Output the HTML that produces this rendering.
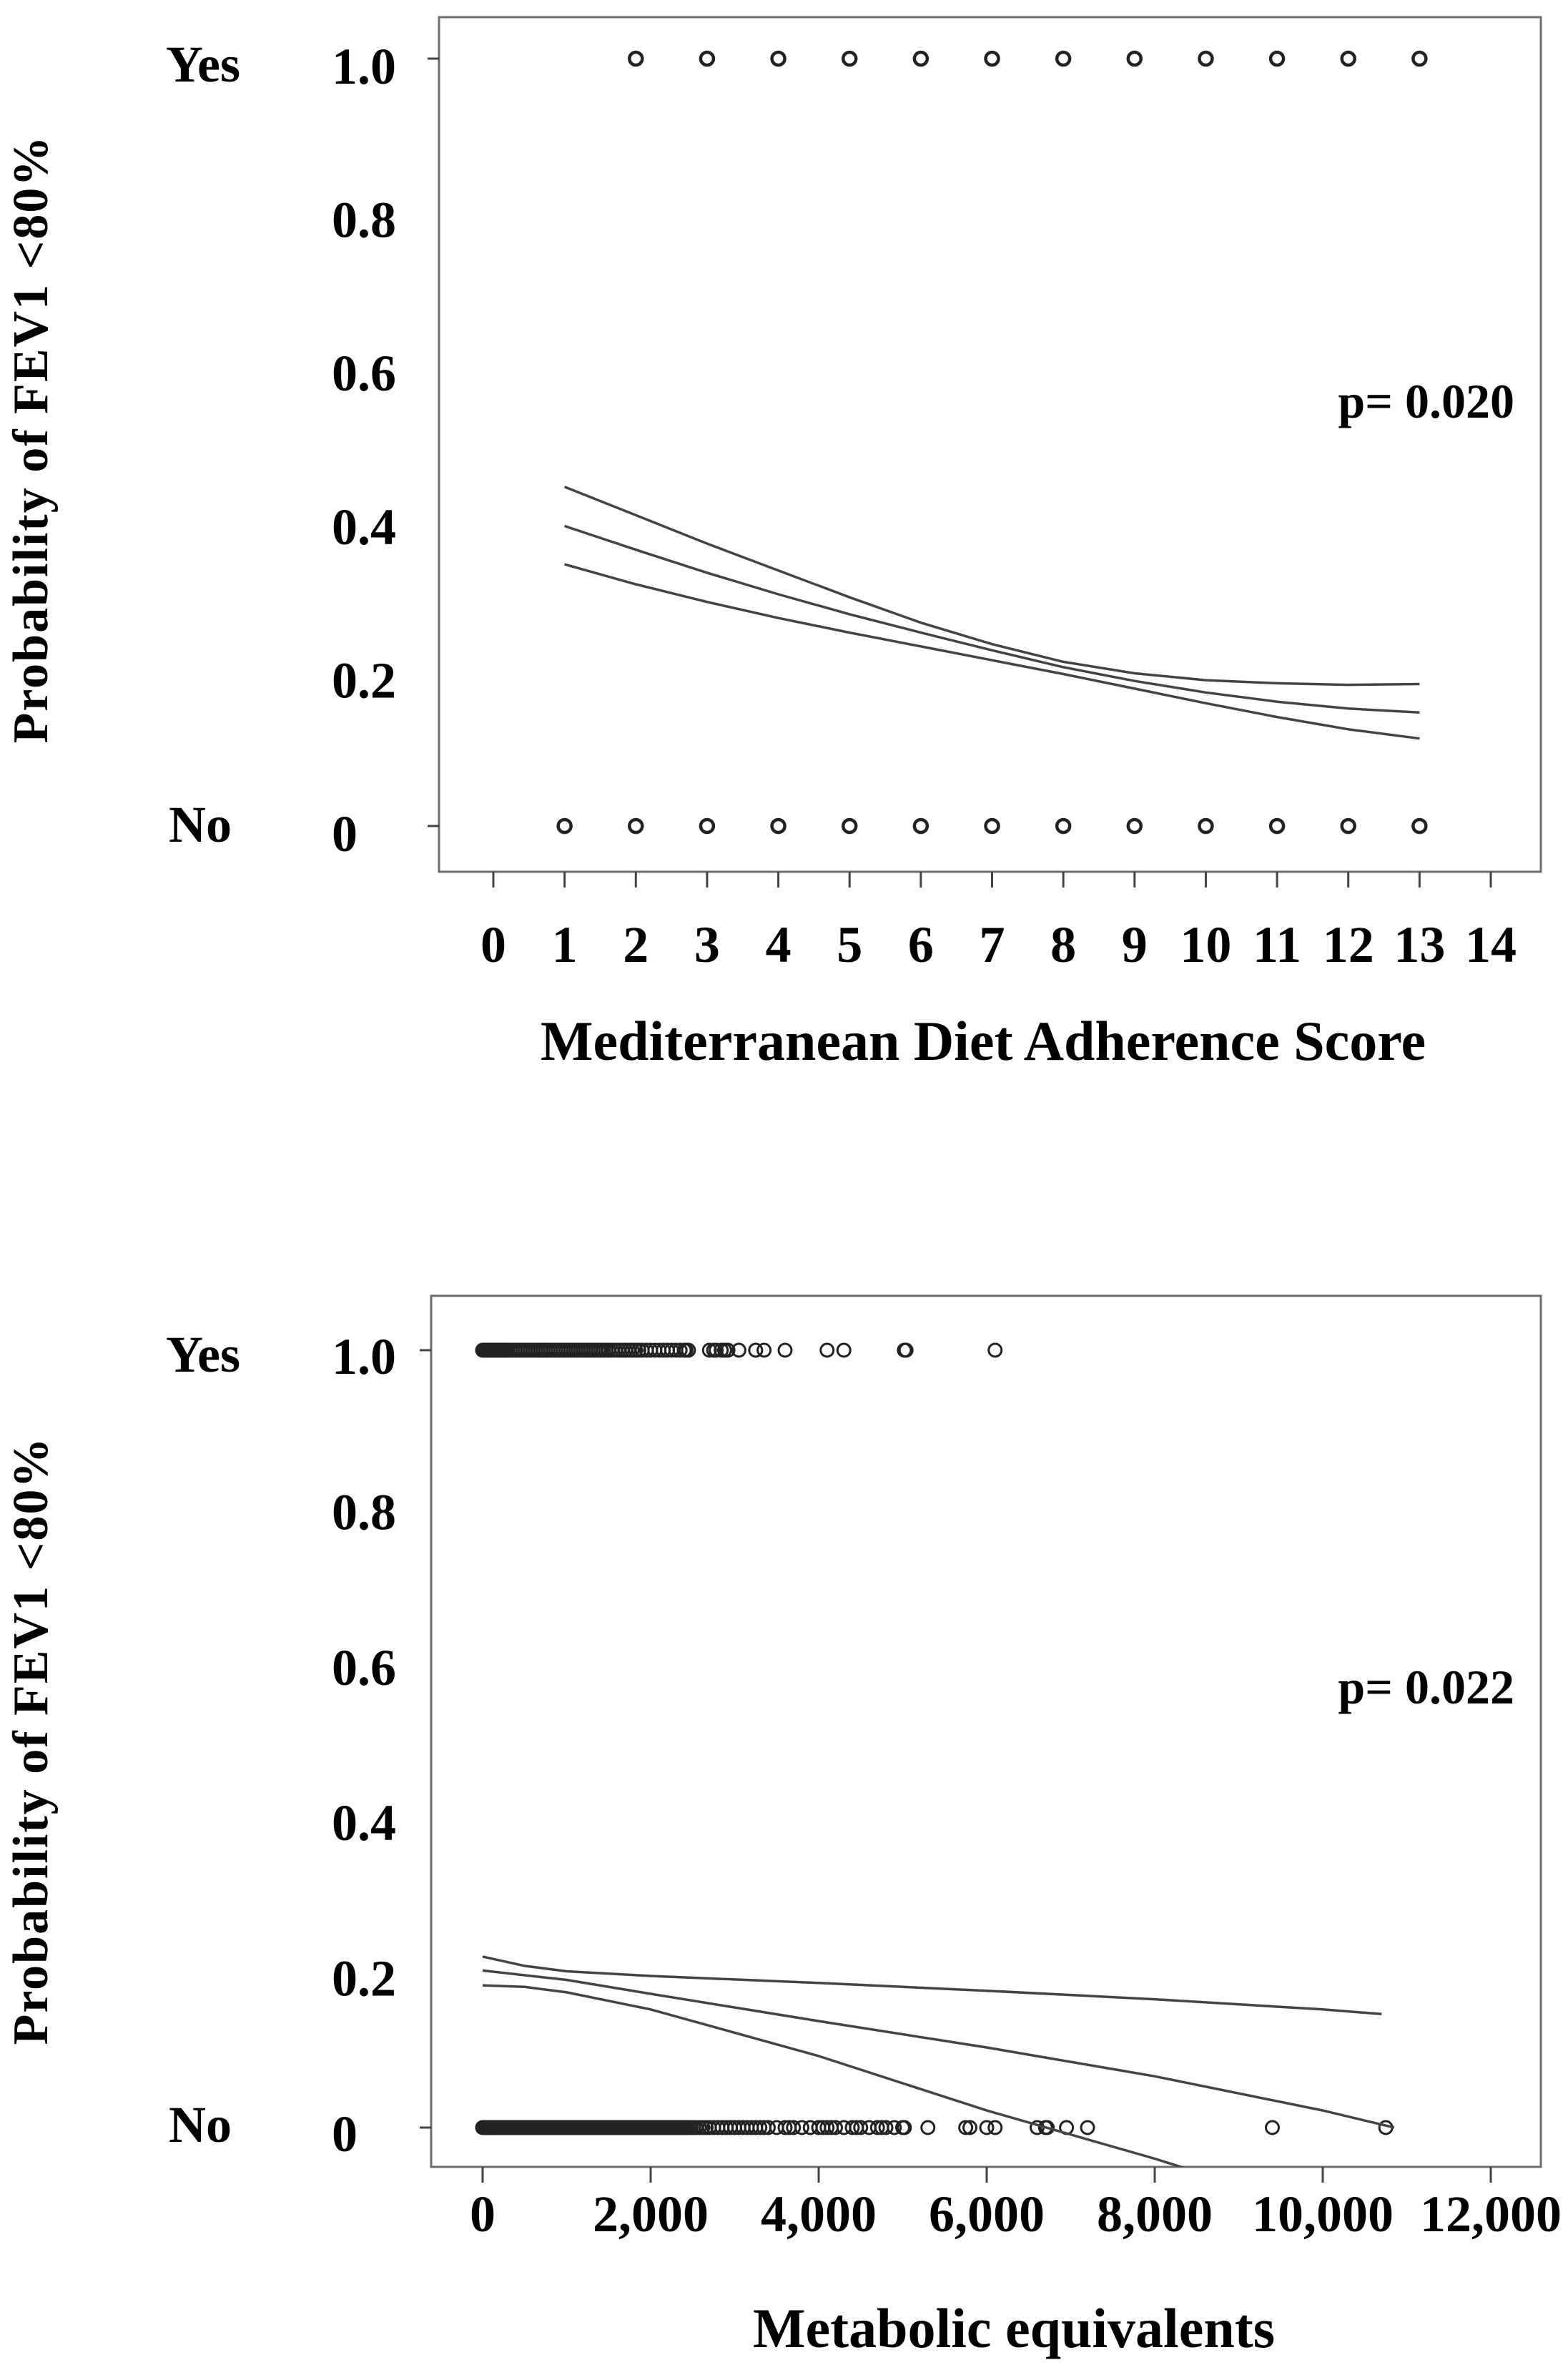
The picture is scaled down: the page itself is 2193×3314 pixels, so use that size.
<!DOCTYPE html>
<html><head><meta charset="utf-8"><style>
html,body{margin:0;padding:0;background:#fff;}
svg{display:block;font-family:"Liberation Serif",serif;font-weight:bold;}
</style></head><body>
<svg id="fig" width="2193" height="3314" viewBox="0 0 2193 3314" xmlns="http://www.w3.org/2000/svg">
<g id="top"></g>
<g id="bot"></g>
</svg>
<script>
// ---- Top chart data ----
const dietTicks = [0,1,2,3,4,5,6,7,8,9,10,11,12,13,14];
const dietX = [1,2,3,4,5,6,7,8,9,10,11,12,13];
const dietUpper = [0.442,0.405,0.368,0.333,0.298,0.265,0.237,0.214,0.199,0.190,0.186,0.184,0.185];
const dietMid   = [0.391,0.360,0.330,0.302,0.276,0.252,0.229,0.207,0.189,0.174,0.162,0.153,0.148];
const dietLower = [0.341,0.315,0.292,0.271,0.252,0.234,0.216,0.198,0.179,0.160,0.142,0.126,0.114];
const dietYesPts = [2,3,4,5,6,7,8,9,10,11,12,13];
const dietNoPts = [1,2,3,4,5,6,7,8,9,10,11,12,13];
const yTicks = [0,0.2,0.4,0.6,0.8,1.0];
const yTickLabels = ["0","0.2","0.4","0.6","0.8","1.0"];
// ---- Bottom chart data ----
const metTicks = [0,2000,4000,6000,8000,10000,12000];
const metTickLabels = ["0","2,000","4,000","6,000","8,000","10,000","12,000"];
const metUpperX = [0,500,1000,2000,4000,6000,8000,10000,10700];
const metUpperY = [0.220,0.208,0.201,0.195,0.186,0.176,0.165,0.152,0.146];
const metMidX = [0,1000,2000,4000,6000,8000,10000,10850];
const metMidY = [0.202,0.190,0.172,0.137,0.103,0.066,0.022,0.000];
const metLowX = [0,500,1000,2000,4000,6000,8000,8500];
const metLowY = [0.183,0.181,0.174,0.152,0.092,0.022,-0.040,-0.057];
const metYesPts = [0,20,40,60,80,100,120,140,160,180,200,220,240,260,280,300,330,360,390,420,450,480,510,540,570,600,630,660,690,720,750,780,810,840,870,900,930,960,990,1020,1050,1080,1110,1140,1170,1200,1230,1260,1290,1320,1350,1380,1410,1440,1470,1500,1540,1580,1620,1660,1700,1740,1780,1820,1860,1900,1950,2000,2050,2100,2150,2200,2250,2300,2350,2400,2420,2450,2700,2750,2780,2840,2880,2920,3050,3250,3350,3600,4100,4300,5020,5040,6100];
const metNoPts = [0,15,30,45,60,75,90,105,120,135,150,170,190,210,230,250,270,290,310,330,350,370,390,410,430,450,470,490,510,530,550,570,590,610,630,650,670,690,710,730,750,770,790,810,830,850,870,890,910,930,950,970,990,1010,1030,1050,1070,1090,1110,1130,1150,1170,1190,1210,1230,1250,1270,1290,1310,1330,1350,1370,1390,1410,1430,1450,1470,1490,1510,1530,1550,1570,1590,1610,1630,1650,1670,1690,1710,1730,1750,1770,1790,1810,1830,1850,1870,1890,1910,1930,1950,1970,1990,2010,2030,2050,2070,2090,2110,2130,2150,2170,2190,2210,2230,2250,2270,2290,2310,2330,2350,2370,2390,2410,2430,2450,2480,2510,2540,2580,2620,2660,2700,2750,2800,2850,2900,2950,3000,3050,3100,3150,3200,3250,3300,3350,3400,3500,3600,3650,3700,3800,3900,4000,4050,4100,4150,4200,4300,4400,4450,4500,4600,4700,4750,4800,4900,5000,5020,5300,5750,5800,6000,6100,6600,6700,6720,6950,7200,9400,10750];

const NS="http://www.w3.org/2000/svg";
function mk(parent,tag,attrs,text){const e=document.createElementNS(NS,tag);for(const k in attrs)e.setAttribute(k,attrs[k]);if(text!==undefined)e.textContent=text;parent.appendChild(e);return e;}

function drawChart(g,cfg){
  const sx=v=>cfg.x0+(v-cfg.xmin)*(cfg.x1-cfg.x0)/(cfg.xmax-cfg.xmin);
  const sy=v=>cfg.y0-v*(cfg.y0-cfg.y1);
  const clipId=cfg.id+"-clip";
  const defs=mk(g,"defs",{});
  const cp=mk(defs,"clipPath",{id:clipId});
  mk(cp,"rect",{x:cfg.L,y:cfg.T,width:cfg.R-cfg.L,height:cfg.B-cfg.T});
  const frame=mk(g,"rect",{x:cfg.L,y:cfg.T,width:cfg.R-cfg.L,height:cfg.B-cfg.T,fill:"none",stroke:"#6e6e6e","stroke-width":3});
  
  
  [0,1].forEach(v=>{
    const t=mk(g,"line",{x1:cfg.L-16,x2:cfg.L,y1:sy(v),y2:sy(v),stroke:"#444","stroke-width":3});
    
    
  });
  yTicks.forEach((v,i)=>{
    const t=mk(g,"text",{x:464,y:sy(v)+cfg.lblOff+25,"font-size":72},yTickLabels[i]);
    
    
  });
  const yes=mk(g,"text",{x:232,y:sy(1)+cfg.lblOff+22,"font-size":72},"Yes");
  
  
  const no=mk(g,"text",{x:236,y:sy(0)+cfg.lblOff+12,"font-size":72},"No");
  
  
  cfg.xt.forEach((v,i)=>{
    const t=mk(g,"line",{x1:sx(v),x2:sx(v),y1:cfg.B,y2:cfg.B+22,stroke:"#444","stroke-width":3});
    
    
    const l=mk(g,"text",{x:sx(v),y:cfg.xlY,"font-size":72,"text-anchor":"middle"},cfg.xtl[i]);
    
    
  });
  const xt=mk(g,"text",{x:cfg.xTitleX,y:cfg.xTitleY,"font-size":cfg.xTitleSize,"text-anchor":"middle"},cfg.xTitle);
  
  
  const yt=mk(g,"text",{x:0,y:0,"font-size":70,"text-anchor":"middle",transform:`translate(66,${cfg.yTitleY}) rotate(-90)`,"letter-spacing":2},"Probability of FEV1 <80%");
  
  
  const p=mk(g,"text",{x:2118,y:cfg.pY+22,"font-size":68,"text-anchor":"end"},cfg.pText);
  
  
  const pts=mk(g,"g",{fill:"none",stroke:"#222","stroke-width":cfg.ptStroke});
  cfg.yesPts.forEach(v=>{const c=mk(pts,"circle",{cx:sx(v),cy:sy(1),r:9});
    
    });
  cfg.noPts.forEach(v=>{const c=mk(pts,"circle",{cx:sx(v),cy:sy(0),r:9});
    
    });
  cfg.curves.forEach(cv=>{
    const d=cv.xs.map((x,i)=>(i?"L":"M")+sx(x).toFixed(1)+","+sy(cv.ys[i]).toFixed(1)).join(" ");
    const path=mk(g,"path",{d:d,fill:"none",stroke:"#444","stroke-width":3.5,"clip-path":`url(#${clipId})`});
    
    
  });
}

drawChart(document.getElementById('top'),{
  id:"top",L:614,R:2155,T:24,B:1219,x0:690,x1:2085,xmin:0,xmax:14,y0:1155,y1:82,lblOff:10,ptStroke:4.5,
  xt:dietTicks,xtl:dietTicks.map(String),xlY:1345,xTitle:"Mediterranean Diet Adherence Score",xTitleX:1375,xTitleY:1482,xTitleSize:78,
  yTitleY:614,pText:"p= 0.020",pY:562,yesPts:dietYesPts,noPts:dietNoPts,
  curves:[{name:"upper-ci-curve",xs:dietX,ys:dietUpper},{name:"fitted-curve",xs:dietX,ys:dietMid},{name:"lower-ci-curve",xs:dietX,ys:dietLower}]
});
drawChart(document.getElementById('bot'),{
  id:"bot",L:603,R:2155,T:1812,B:3030,x0:675,x1:2085,xmin:0,xmax:12000,y0:2975,y1:1888,lblOff:8,ptStroke:3,
  xt:metTicks,xtl:metTickLabels,xlY:3120,xTitle:"Metabolic equivalents",xTitleX:1418,xTitleY:3282,xTitleSize:78,
  yTitleY:2434,pText:"p= 0.022",pY:2360,yesPts:metYesPts,noPts:metNoPts,
  curves:[{name:"upper-ci-curve",xs:metUpperX,ys:metUpperY},{name:"fitted-curve",xs:metMidX,ys:metMidY},{name:"lower-ci-curve",xs:metLowX,ys:metLowY}]
});
</script>
</body></html>
